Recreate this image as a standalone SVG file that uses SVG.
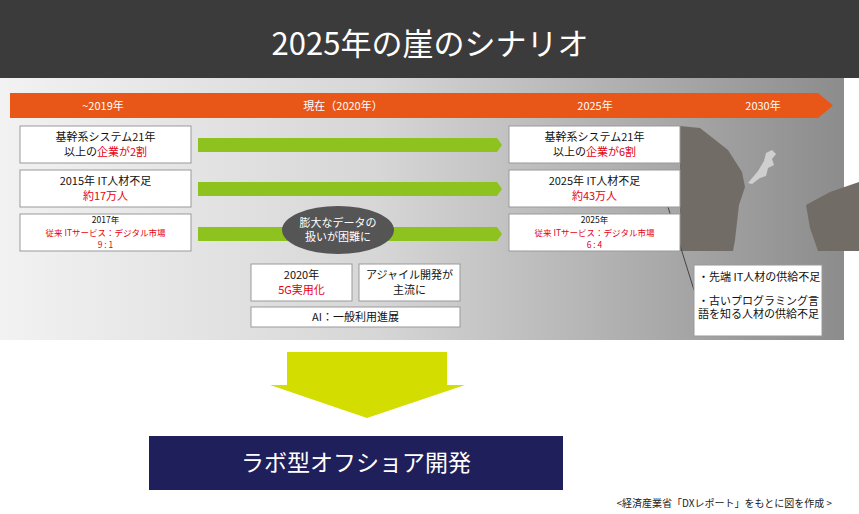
<svg xmlns="http://www.w3.org/2000/svg" width="859" height="514" viewBox="0 0 859 514">
<defs>
<linearGradient id="bg" x1="0" x2="1" y1="0" y2="0">
<stop offset="0" stop-color="#f2f2f2"/><stop offset="0.45" stop-color="#d6d6d6"/><stop offset="1" stop-color="#8c8c8c"/>
</linearGradient>
<style>
text{font-family:"Noto Sans CJK JP","Noto Sans",sans-serif;text-anchor:middle}
.box{fill:#fff;stroke:#999;stroke-width:1}
.t{font-size:11px;fill:#111}
.s{font-size:8.5px}
.r{fill:#e60012}
.g{fill:#8dc21f}
.w{fill:#fff}
</style>
</defs>
<rect x="0" y="0" width="859" height="78" fill="#3b3b3b"/>
<text x="430" y="55" font-size="31" class="w">2025年の崖のシナリオ</text>
<rect x="0" y="78" width="844" height="262" fill="url(#bg)"/>
<g id="cliffs">
<polygon points="680,126 700,128 728,150 742,172 745,187 739,205 735,240 733,251 680,251" fill="#716d66"/>
<polygon points="806,205 830,192 859,182 859,251 818,251 810,228" fill="#716d66"/>
<path d="M748,183 l10,-12 6,-10 2,-8 6,-3 4,4 -4,5 2,6 -6,3 -2,8 -6,2 -8,6z" fill="#cfcfcf"/>
</g>
<g id="timeline">
<polygon points="10,93 818,93 833,105.5 818,118 10,118" fill="#e85618"/>
<text x="103" y="110" class="t w">~2019年</text>
<text x="343" y="110" class="t w">現在（2020年）</text>
<text x="595" y="110" class="t w">2025年</text>
<text x="763" y="110" class="t w">2030年</text>
</g>
<g id="connectors">
<polygon points="198,138 497,138 502,145 497,152 198,152" class="g"/>
<polygon points="198,182 497,182 502,189 497,196 198,196" class="g"/>
<polygon points="198,227 497,227 502,234 497,241 198,241" class="g"/>
<path d="M668,207 L694,290" stroke="#444" stroke-width="1" fill="none"/>
</g>
<g id="b1"><rect x="20" y="126" width="171" height="37" class="box"/>
<text x="105.5" y="141" class="t">基幹系システム21年</text><text x="105.5" y="156" class="t">以上の<tspan class="r">企業が2割</tspan></text></g>
<g id="b2"><rect x="20" y="170" width="171" height="37" class="box"/>
<text x="105.5" y="185" class="t">2015年 IT人材不足</text><text x="105.5" y="200" class="t r">約17万人</text></g>
<g id="b3"><rect x="20" y="214" width="171" height="37" class="box"/>
<text x="105.5" y="223" class="t s">2017年</text><text x="105.5" y="235.5" class="t s r">従来 ITサービス：デジタル市場</text><text x="105.5" y="248" class="t s r">9 : 1</text></g>
<g id="b4"><rect x="509" y="126" width="171" height="37" class="box"/>
<text x="594.5" y="141" class="t">基幹系システム21年</text><text x="594.5" y="156" class="t">以上の<tspan class="r">企業が6割</tspan></text></g>
<g id="b5"><rect x="509" y="170" width="171" height="37" class="box"/>
<text x="594.5" y="185" class="t">2025年 IT人材不足</text><text x="594.5" y="200" class="t r">約43万人</text></g>
<g id="b6"><rect x="509" y="214" width="171" height="37" class="box"/>
<text x="594.5" y="223" class="t s">2025年</text><text x="594.5" y="235.5" class="t s r">従来 ITサービス：デジタル市場</text><text x="594.5" y="248" class="t s r">6 : 4</text></g>
<g id="ellipse"><ellipse cx="338" cy="230" rx="56" ry="24" fill="#555"/>
<text x="338" y="227" class="t w">膨大なデータの</text><text x="338" y="241" class="t w">扱いが困難に</text></g>
<g id="b7"><rect x="251" y="264" width="101" height="37" class="box"/>
<text x="301.5" y="279" class="t">2020年</text><text x="301.5" y="294" class="t r">5G実用化</text></g>
<g id="b8"><rect x="359" y="264" width="101" height="37" class="box"/>
<text x="409.5" y="279" class="t">アジャイル開発が</text><text x="409.5" y="294" class="t">主流に</text></g>
<g id="b9"><rect x="251" y="307" width="209" height="20" class="box"/>
<text x="355.5" y="321" class="t">AI：一般利用進展</text></g>
<g id="callout"><rect x="694" y="265" width="128" height="71" class="box"/>
<text x="698" y="281" class="t" style="text-anchor:start">・先端 IT人材の供給不足</text>
<text x="698" y="305" class="t" style="text-anchor:start">・古いプログラミング言</text>
<text x="698" y="318" class="t" style="text-anchor:start">語を知る人材の供給不足</text></g>
<g id="down"><polygon points="287,352 447,352 447,385 465,385 367,418 270,385 287,385" fill="#d4dd00"/></g>
<g id="result"><rect x="149" y="436" width="414" height="54" fill="#1f1f5c"/>
<text x="356" y="471" font-size="23" class="w">ラボ型オフショア開発</text></g>
<text x="832" y="507" font-size="10" fill="#222" style="text-anchor:end">&lt;経済産業省「DXレポート」をもとに図を作成 &gt;</text>
</svg>
